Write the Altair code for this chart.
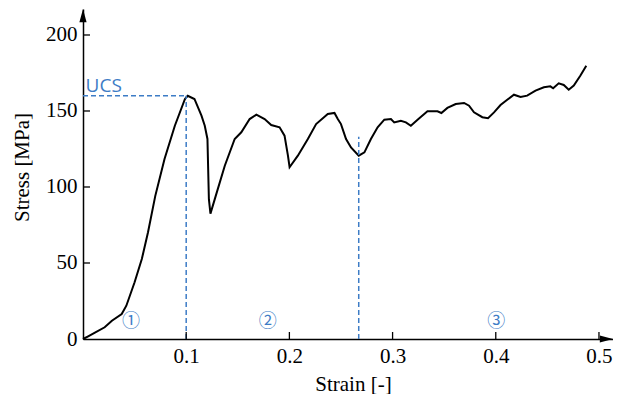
import altair as alt
import pandas as pd

# --- data ---
strain = [0, 0.005, 0.012, 0.021, 0.028, 0.0375, 0.042, 0.050, 0.057, 0.063,
          0.070, 0.079, 0.089, 0.0988, 0.1015, 0.108, 0.1148, 0.118, 0.1206, 0.122,
          0.1235, 0.1277, 0.1374, 0.147, 0.1534, 0.1615, 0.168, 0.176, 0.1824, 0.1905,
          0.1953, 0.1986, 0.2002, 0.2082, 0.2179, 0.2259, 0.2372, 0.2437, 0.2469, 0.25,
          0.2549, 0.2597, 0.2672, 0.2727, 0.279, 0.2855, 0.292, 0.2984, 0.3016, 0.308,
          0.3129, 0.3177, 0.3242, 0.3338, 0.3435, 0.3473, 0.3531, 0.3612, 0.3693, 0.3741,
          0.3789, 0.387, 0.3925, 0.3983, 0.4046, 0.4111, 0.4176, 0.424, 0.4304, 0.4385,
          0.4466, 0.4529, 0.4556, 0.461, 0.4659, 0.4707, 0.4756, 0.4819, 0.4877]
stress = [0, 1.8, 4.4, 7.7, 12, 16.4, 21.9, 37.3, 52.6, 70.2,
          94, 118.4, 140.3, 157.9, 160, 157.9, 146.9, 140.3, 131.6, 92,
          82.5, 92, 114, 131.6, 136, 144.7, 147.6, 144.7, 140.8, 139.3,
          133.8, 120.6, 113, 120.6, 131.6, 141.4, 148, 148.7, 144.7, 141.4,
          131.6, 126, 120.6, 122.8, 131.6, 139.3, 144.3, 144.7, 142.5, 143.6,
          142.5, 140.3, 144.3, 149.8, 149.8, 148.7, 152, 154.6, 155.3, 153.5,
          149.1, 145.9, 145.2, 149.1, 153.9, 157.4, 160.7, 159.2, 160.1, 163.4,
          165.6, 166.2, 164.9, 168.2, 167.1, 164, 166.7, 173.2, 179.8]
assert len(strain) == len(stress)

ucs_label = ["UCS"]
ucs_stress = [160]
guide_x1 = [0, 0.1, 0.2672]
guide_x2 = [0.1, 0.1, 0.2672]
guide_y1 = [160, 0, 0]
guide_y2 = [160, 160, 133]

zone_labels = ["①", "②", "③"]
zone_strain = [0.0465, 0.179, 0.4005]
zone_stress = [11, 11, 11]

x_ticks = [0.1, 0.2, 0.3, 0.4, 0.5]
y_ticks = [0, 50, 100, 150, 200]
y_tick_marks = [50, 100, 150, 200]

W, H = 530, 330
XMAX = 0.5136
YMAX = 217.1
BLUE = "#3d7cc6"
SERIF = "Liberation Serif"

xs = alt.Scale(domain=[0, XMAX], nice=False, zero=False)
ys = alt.Scale(domain=[0, YMAX], nice=False, zero=False)

curve_df = pd.DataFrame({"strain": strain, "stress": stress})
guide_df = pd.DataFrame({"strain": guide_x1, "x2": guide_x2, "stress": guide_y1, "y2": guide_y2})
zone_df = pd.DataFrame({"strain": zone_strain, "stress": zone_stress, "t": zone_labels})
ucs_df = pd.DataFrame({"strain": [0.0025], "stress": ucs_stress, "t": ucs_label})
xt_df = pd.DataFrame({"strain": x_ticks})
yt_df = pd.DataFrame({"stress": y_tick_marks})

x_axis = alt.Axis(values=x_ticks, format=".1f", domain=True, domainColor="black",
                  domainWidth=1.5, ticks=False, tickSize=0, grid=False,
                  labelFont=SERIF, labelFontSize=21, labelColor="black",
                  labelPadding=6, labelFlush=False,
                  title="Strain [-]", titleFont=SERIF, titleFontSize=21,
                  titleFontWeight="normal", titleColor="black",
                  titleX=270, titleY=51, titleAlign="center",
                  titleBaseline="alphabetic")
y_axis = alt.Axis(values=y_ticks, format="d", domain=True, domainColor="black",
                  domainWidth=1.5, ticks=False, tickSize=0, grid=False,
                  labelFont=SERIF, labelFontSize=21, labelColor="black",
                  labelPadding=6, labelFlush=False,
                  title="Stress [MPa]", titleFont=SERIF, titleFontSize=21,
                  titleFontWeight="normal", titleColor="black",
                  titleX=-55, titleY=158, titleAngle=270, titleAlign="center",
                  titleBaseline="alphabetic")

X = alt.X("strain:Q", scale=xs, axis=x_axis)
Y = alt.Y("stress:Q", scale=ys, axis=y_axis)

curve = alt.Chart(curve_df).mark_line(color="black", strokeWidth=2).encode(
    x=X, y=Y, order="strain:Q",
)

guides = alt.Chart(guide_df).mark_rule(color=BLUE, strokeWidth=1.5, strokeDash=[5, 3]).encode(
    x=X, x2="x2:Q", y=Y, y2="y2:Q",
)

ucs_text = alt.Chart(ucs_df).mark_text(
    color=BLUE, font="Open Sans", fontSize=19, align="left", baseline="alphabetic", dy=-4
).encode(x=X, y=Y, text="t:N")

zones = alt.Chart(zone_df).mark_text(
    color=BLUE, font="Noto Sans CJK JP", fontSize=18, align="center", baseline="middle"
).encode(x=X, y=Y, text="t:N")

xticks = alt.Chart(xt_df).mark_rule(color="black", strokeWidth=1.3).encode(
    x=X, y=alt.value(H), y2=alt.value(H - 7),
)
yticks = alt.Chart(yt_df).mark_rule(color="black", strokeWidth=1.3).encode(
    y=Y, x=alt.value(0), x2=alt.value(7),
)

arrow_up = alt.Chart(pd.DataFrame({"a": [0]})).mark_point(
    shape="M0,0 L-0.9,3.3 L0.9,3.3 Z", size=64, filled=True, color="black", opacity=1,
    strokeWidth=0
).encode(x=alt.value(0), y=alt.value(0))
arrow_right = alt.Chart(pd.DataFrame({"a": [0]})).mark_point(
    shape="M0,0 L-3.3,-0.9 L-3.3,0.9 Z", size=64, filled=True, color="black", opacity=1,
    strokeWidth=0
).encode(x=alt.value(W), y=alt.value(H))

chart = alt.layer(curve, guides, ucs_text, zones, xticks, yticks, arrow_up, arrow_right).properties(
    width=W, height=H,
    autosize=alt.AutoSizeParams(type="none"),
    padding={"left": 75, "top": 1, "right": 0, "bottom": 55},
    background="white",
).configure_axis(
    labelFont=SERIF, titleFont=SERIF
).configure_view(stroke=None)

chart.save("out.html", embed_options={"renderer": "svg", "actions": False})
